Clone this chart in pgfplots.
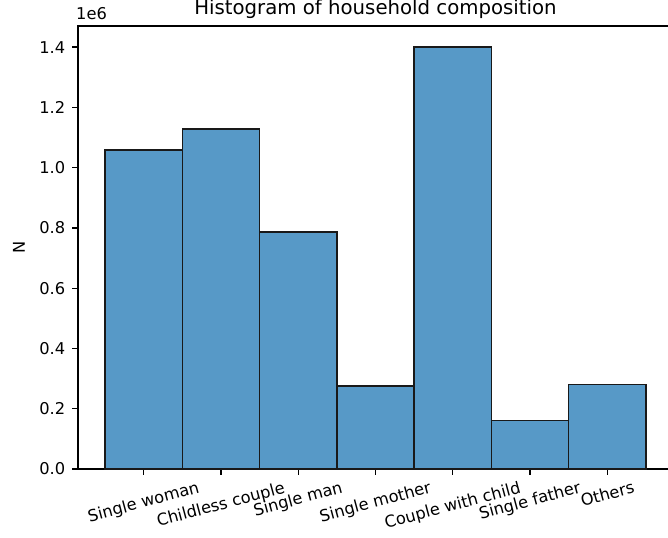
\documentclass[border=0pt]{standalone}
\usepackage{fontspec}
\setmainfont{DejaVu Sans}
\usepackage{graphicx}
\usepackage{pgfplots}
\pgfplotsset{compat=1.18}
\definecolor{barblue}{RGB}{87,153,199}
\newcommand{\rl}[1]{\rotatebox{15}{#1}}
\begin{document}
\begin{tikzpicture}[x=1pt,y=1pt]
\path[use as bounding box, clip] (0,0) rectangle (480.96pt,386.64pt);
\begin{axis}[
  at={(56.16pt,48.96pt)}, anchor=south west,
  scale only axis, width=428.4pt, height=318.96pt,
  xmin=-0.85, xmax=6.85, ymin=0, ymax=1470000,
  xtick={0,1,2,3,4,5,6},
  xticklabels={\rl{Single woman},\rl{Childless couple},\rl{Single man},\rl{Single mother},\rl{Couple with child},\rl{Single father},\rl{Others}},
  x tick label style={anchor=north, font=\fontsize{11.7}{14}\selectfont, inner sep=0pt, yshift=-4pt},
  ytick={0,200000,400000,600000,800000,1000000,1200000,1400000},
  scaled y ticks=base 10:-6,
  ytick scale label code/.code={1e6},
  every y tick scale label/.style={at={(rel axis cs:0,1)}, anchor=south west, inner sep=0pt, yshift=4pt, font=\fontsize{11.7}{14}\selectfont},
  y tick label style={/pgf/number format/.cd, fixed, fixed zerofill, precision=1, /tikz/.cd, font=\fontsize{11.7}{14}\selectfont, xshift=-1.5pt},
  /pgf/number format/assume math mode=true,
  xtick pos=bottom, ytick pos=left, tick align=outside,
  major tick length=4.2pt,
  every tick/.style={black, line width=0.95pt},
  axis line style={line width=0.95pt},
  ylabel={N}, ylabel style={font=\fontsize{11.7}{14}\selectfont, yshift=3.5pt},
  title={Histogram of household composition},
  title style={font=\fontsize{14.2}{17}\selectfont, anchor=base, at={(rel axis cs:0.5,1)}, yshift=2pt},
  ybar, bar width=1,
]
\addplot[fill=barblue, draw=black!90, line width=1pt] coordinates {
(0,1058000) (1,1128000) (2,786000) (3,275000) (4,1400000) (5,160000) (6,281000)};
\end{axis}
\end{tikzpicture}
\end{document}
